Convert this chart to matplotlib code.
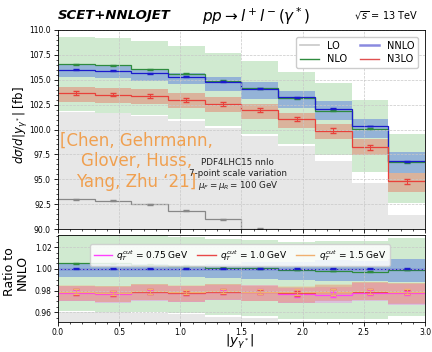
import numpy as np
import matplotlib
matplotlib.use("Agg")
import matplotlib.pyplot as plt
from matplotlib.lines import Line2D
from matplotlib.ticker import MultipleLocator, AutoMinorLocator

# bins in |y_gamma*|
edges = [0.0, 0.3, 0.6, 0.9, 1.2, 1.5, 1.8, 2.1, 2.4, 2.7, 3.0]

lo = [93.0, 92.85, 92.5, 91.85, 91.0, 90.05, 89.2, 88.2, 86.7, 84.0]
lo_up = [101.8, 101.65, 101.35, 100.9, 100.2, 99.4, 98.3, 96.8, 94.65, 91.4]
lo_dn = [84.5, 84.3, 84.0, 83.4, 82.6, 81.7, 80.9, 79.9, 78.4, 75.8]

nlo = [106.55, 106.43, 106.04, 105.6, 104.9, 104.15, 103.14, 101.9, 100.1, 96.7]
nlo_up = [109.27, 109.2, 108.9, 108.4, 107.65, 106.9, 105.8, 104.7, 102.93, 99.55]
nlo_dn = [101.85, 101.7, 101.45, 101.05, 100.35, 99.6, 98.5, 97.4, 95.7, 92.6]

nnlo = [106.0, 105.9, 105.65, 105.3, 104.8, 104.1, 103.25, 102.1, 100.35, 96.8]
nnlo_up = [106.45, 106.35, 106.1, 105.7, 105.25, 104.8, 103.9, 102.9, 101.1, 97.7]
nnlo_dn = [105.25, 105.15, 104.9, 104.55, 103.9, 103.1, 102.2, 101.0, 99.2, 95.6]

n3lo = [103.65, 103.5, 103.4, 103.0, 102.6, 101.95, 101.1, 99.9, 98.2, 94.8]
n3lo_up = [104.3, 104.2, 104.1, 103.7, 103.3, 102.55, 101.7, 100.6, 99.05, 95.6]
n3lo_dn = [102.8, 102.65, 102.55, 102.15, 101.8, 101.1, 100.2, 99.1, 97.4, 93.75]
n3lo_err = [0.2, 0.18, 0.2, 0.2, 0.2, 0.18, 0.2, 0.22, 0.25, 0.25]

# ratio of N3LO to NNLO for different qT cuts
qt_labels = ["0.75", "1.0", "1.5"]
r_q075 = [0.9780, 0.9770, 0.9785, 0.9778, 0.9788, 0.9790, 0.9768, 0.9762, 0.9782, 0.9778]
r_q10 = [0.9785, 0.9773, 0.9790, 0.9780, 0.9790, 0.9785, 0.9775, 0.9785, 0.9790, 0.9785]
r_q15 = [0.9790, 0.9778, 0.9792, 0.9785, 0.9795, 0.9790, 0.9785, 0.9788, 0.9792, 0.9790]
r_err = [0.0025, 0.002, 0.002, 0.002, 0.002, 0.002, 0.0025, 0.0025, 0.002, 0.002]

edges = np.array(edges)
centers = 0.5 * (edges[:-1] + edges[1:])


def step(ax, y, **kw):
    ax.stairs(np.asarray(y), edges, baseline=None, **kw)


def band(ax, lo_, hi_, **kw):
    ax.stairs(np.asarray(hi_), edges, baseline=np.asarray(lo_), fill=True, lw=0, **kw)


c_lo, c_nlo, c_nnlo, c_n3lo = "#888888", "#2e8b3e", "#1a1acc", "#e8403a"

fig = plt.figure(figsize=(4.32, 3.52), dpi=100)
ax = fig.add_axes([0.134, 0.349, 0.850, 0.566])
axr = fig.add_axes([0.134, 0.085, 0.850, 0.247])

# upper panel
band(ax, lo_dn, lo_up, color="#b0b0b0", alpha=0.3)
band(ax, nlo_dn, nlo_up, color="#2ca02c", alpha=0.22)
band(ax, nnlo_dn, nnlo_up, color="#4169e1", alpha=0.42)
band(ax, n3lo_dn, n3lo_up, color="#f04030", alpha=0.32)
step(ax, lo, color=c_lo, lw=0.9)
step(ax, nlo, color=c_nlo, lw=0.9)
step(ax, nnlo, color=c_nnlo, lw=0.9)
step(ax, n3lo, color=c_n3lo, lw=0.9)
ax.errorbar(centers, lo, yerr=0.04, fmt="none", ecolor=c_lo, capsize=2, lw=0.6)
ax.errorbar(centers, nlo, yerr=0.04, fmt="none", ecolor=c_nlo, capsize=2, lw=0.6)
ax.errorbar(centers, nnlo, yerr=0.04, fmt="none", ecolor=c_nnlo, capsize=2, lw=0.6)
ax.errorbar(centers, n3lo, yerr=n3lo_err, fmt="none", ecolor=c_n3lo, capsize=2, lw=0.7)

ax.set_xlim(0, 3)
ax.set_ylim(90, 110)
ax.xaxis.set_major_locator(MultipleLocator(0.5))
ax.xaxis.set_minor_locator(AutoMinorLocator(5))
ax.yaxis.set_major_locator(MultipleLocator(2.5))
ax.yaxis.set_minor_locator(AutoMinorLocator(5))
ax.tick_params(labelbottom=False, labelsize=5.5, length=3, width=0.6, pad=2)
ax.tick_params(which="minor", length=1.5, width=0.5)
ax.grid(True, ls="--", lw=0.5, color="#c8c8c8")

handles = [
    Line2D([], [], color="#c8c8c8", lw=1.2, label="LO"),
    Line2D([], [], color=c_nlo, lw=1.0, label="NLO"),
    Line2D([], [], color="#8a8ae0", lw=1.8, label="NNLO"),
    Line2D([], [], color="#e05050", lw=1.0, label="N3LO"),
]
ax.legend(handles=handles, ncol=2, loc="upper right", fontsize=7, frameon=True,
          framealpha=1, edgecolor="#cccccc", handlelength=2.0, columnspacing=1.3,
          borderpad=0.4, labelspacing=0.35, handletextpad=0.8,
          bbox_to_anchor=(0.995, 0.99))

ax.text(0.64, 96.8, "[Chen, Gehrmann,\nGlover, Huss,\nYang, Zhu \u201821]",
        color="#f0a050", fontsize=12, ha="center", va="center")
ax.text(1.47, 95.4, "PDF4LHC15 nnlo\n7-point scale variation\n$\\mu_F = \\mu_R = 100$ GeV",
        fontsize=6.3, ha="center", va="center", color="#222222")

# ratio panel
ref = np.array(nnlo)
band(axr, np.array(lo_dn) / ref, np.array(lo_up) / ref, color="#b0b0b0", alpha=0.3)
band(axr, np.array(nlo_dn) / ref, np.array(nlo_up) / ref, color="#2ca02c", alpha=0.22)
band(axr, np.array(nnlo_dn) / ref, np.array(nnlo_up) / ref, color="#4169e1", alpha=0.42)

rel_up = np.array(n3lo_up) / np.array(n3lo)
rel_dn = np.array(n3lo_dn) / np.array(n3lo)
qt_colors = ["#ff40ff", "#e84848", "#f0b070"]
for r, col in zip([r_q075, r_q10, r_q15], qt_colors):
    r = np.array(r)
    band(axr, r * rel_dn, r * rel_up, color=col, alpha=0.25)

step(axr, np.array(nlo) / ref, color=c_nlo, lw=0.9)
step(axr, ref / ref, color=c_nnlo, lw=0.9)
axr.errorbar(centers, np.array(nlo) / ref, yerr=0.0004, fmt="none", ecolor=c_nlo, capsize=2, lw=0.6)
axr.errorbar(centers, ref / ref, yerr=0.0004, fmt="none", ecolor=c_nnlo, capsize=2, lw=0.6)

q_handles = []
for r, col, lab in zip([r_q075, r_q10, r_q15], qt_colors, qt_labels):
    step(axr, r, color=col, lw=0.9)
    axr.errorbar(centers, r, yerr=r_err, fmt="none", ecolor=col, capsize=2, lw=0.6)
    q_handles.append(Line2D([], [], color=col, lw=1.0,
                            label=r"$q_T^{cut}$ = " + lab + " GeV"))

axr.set_xlim(0, 3)
axr.set_ylim(0.951, 1.031)
axr.xaxis.set_major_locator(MultipleLocator(0.5))
axr.xaxis.set_minor_locator(AutoMinorLocator(5))
axr.yaxis.set_major_locator(MultipleLocator(0.02))
axr.yaxis.set_minor_locator(AutoMinorLocator(4))
axr.tick_params(labelsize=5.5, length=3, width=0.6, pad=1.5)
axr.tick_params(which="minor", length=1.5, width=0.5)
axr.grid(True, ls="--", lw=0.5, color="#c8c8c8")
axr.legend(handles=q_handles, ncol=3, loc="upper left", fontsize=6.5, frameon=True,
           framealpha=0.85, edgecolor="#cccccc", handlelength=2.0, columnspacing=1.0,
           handletextpad=0.5, borderpad=0.4, bbox_to_anchor=(0.075, 0.95))

for a in (ax, axr):
    for s in a.spines.values():
        s.set_linewidth(0.6)

# axis labels placed in figure coordinates
fig.text(21 / 432, 1 - 125 / 352, r"$d\sigma/d|y_{\gamma^*}|$ [fb]", fontsize=8.5,
         rotation=90, ha="center", va="center")
fig.text(16 / 432, 1 - 272 / 352, "Ratio to\nNNLO", fontsize=9, rotation=90,
         ha="center", va="center", linespacing=1.0)
fig.text(240 / 432, 1 - 351 / 352, r"$|y_{\gamma^*}|$", fontsize=9.5, ha="center", va="bottom")

fig.text(0.134, 0.955, "SCET+NNLOJET", fontsize=9.5, fontweight="bold", fontstyle="italic",
         va="center", ha="left")
fig.text(0.593, 0.955, r"$pp \to l^+ l^- (\gamma^*)$", fontsize=11, va="center", ha="center")
fig.text(0.968, 0.955, r"$\sqrt{s}$ = 13 TeV", fontsize=7, va="center", ha="right")

fig.savefig("out.png", dpi=100)
